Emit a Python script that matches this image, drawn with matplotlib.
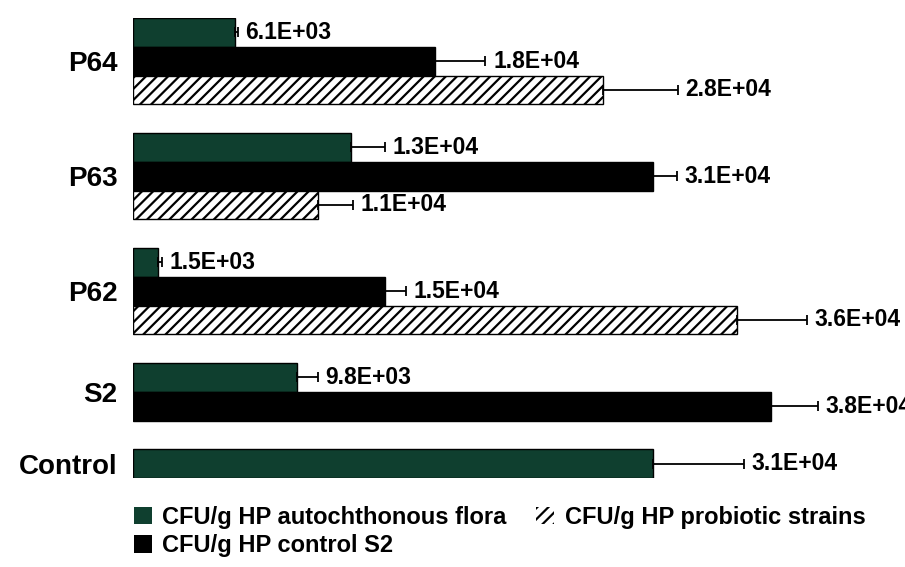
import numpy as np
import matplotlib
matplotlib.use('Agg')
from matplotlib import pyplot as plt
from matplotlib.patches import Patch

# values (CFU/g), top group first
categories = ['P64', 'P63', 'P62', 'S2', 'Control']
auto_vals = [6.1e3, 1.3e4, 1.5e3, 9.8e3, 3.1e4]
auto_err = [150, 2000, 200, 1200, 5400]
ctrl_vals = [1.8e4, 3.1e4, 1.5e4, 3.8e4, None]
ctrl_err = [3000, 1400, 1260, 2800, None]
prob_vals = [2.8e4, 1.1e4, 3.6e4, None, None]
prob_err = [4450, 2100, 4150, None, None]

series_names = ['CFU/g HP autochthonous flora', 'CFU/g HP control S2',
                'CFU/g HP probiotic strains']

green = '#0f3f2f'
plt.rcParams['font.family'] = ['Liberation Sans', 'DejaVu Sans']
plt.rcParams['font.weight'] = 'bold'
plt.rcParams['hatch.linewidth'] = 1.6

fig = plt.figure(figsize=(9.05, 5.67), dpi=100)
ax = fig.add_axes([133 / 905, 89 / 567, 772 / 905, 460 / 567])

styles = [dict(color=green, edgecolor='black', linewidth=1),
          dict(color='black', edgecolor='black', linewidth=1),
          dict(color='white', edgecolor='black', linewidth=1, hatch='///')]
series = [(auto_vals, auto_err), (ctrl_vals, ctrl_err), (prob_vals, prob_err)]

pos = 0.0
centers = []
for i, cat in enumerate(categories):
    start = pos
    for s, (vals, errs) in enumerate(series):
        v = vals[i]
        if v is None:
            continue
        y = pos + 0.5
        ax.barh(y, v, height=1.0, **styles[s])
        ax.errorbar(v, y, xerr=[[0], [errs[i]]], fmt='none', ecolor='black',
                    elinewidth=1.3, capsize=3.5, capthick=1.3)
        ax.annotate('%.1E' % v, xy=(v + errs[i], y), xytext=(5.5, 0),
                    textcoords='offset points', ha='left', va='center',
                    fontsize=16.5, fontweight='bold')
        pos += 1
    centers.append((start + pos) / 2)
    pos += 1

ax.set_ylim(pos - 1, 0)
ax.set_xlim(0, 46000)
ax.set_yticks(centers)
ax.set_yticklabels(categories, fontsize=20, fontweight='bold')
ax.tick_params(axis='y', length=0, pad=11)
ax.set_xticks([])
for sp in ax.spines.values():
    sp.set_visible(False)

handles = [Patch(facecolor=green, edgecolor='none'),
           Patch(facecolor='black', edgecolor='none'),
           Patch(facecolor='white', edgecolor='black', linewidth=0, hatch='///')]
fig.legend(handles, series_names, loc='upper left', ncol=2,
           bbox_to_anchor=(134 / 905, 1 - 506 / 567), frameon=False,
           prop=dict(size=17, weight='bold'), handlelength=0.75,
           handleheight=0.75, handletextpad=0.45, columnspacing=1.25,
           labelspacing=0.22, borderaxespad=0, borderpad=0)

fig.savefig('out.png', dpi=100)
